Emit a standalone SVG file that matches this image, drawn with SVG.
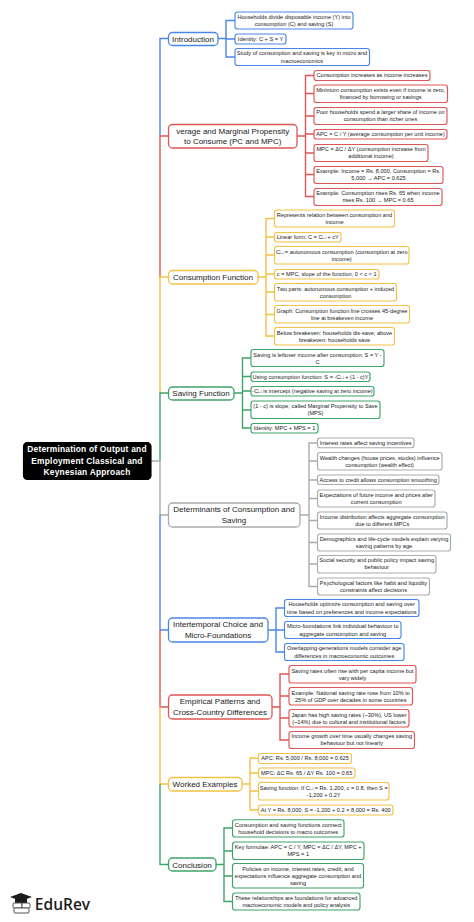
<svg xmlns="http://www.w3.org/2000/svg" width="474" height="922" viewBox="0 0 474 922">
<style>
text{font-family:"Liberation Sans",Arial,sans-serif;text-anchor:middle;fill:#1a1a1a}
.l{font-size:5.6px}
.b{font-size:8px}
.r{font-size:8.4px;font-weight:bold;fill:#fff;letter-spacing:.22px}
rect{fill:#fff;stroke-width:1.15}
.br{stroke-width:1.3}
path{fill:none;stroke-width:1.4}
.blue rect{stroke:#4a86e8}
.red rect{stroke:#e05555}
.yel rect{stroke:#f4c244}
.grn rect{stroke:#3fa46a}
.gry rect{stroke:#ababab}
</style>
<rect width="474" height="922" style="fill:#fff;stroke:none"/>
<g id="connectors">
<path style="stroke:#4a86e8" d="M168 38.5H160V136M218 38.5H226M235 20.5H226V57H235M226 39H235"/>
<path style="stroke:#e05555" d="M168 136H160V277M297 136H305.5M314 75.5H305.5V196.5H314M305.5 93.500H314M305.5 116H314M305.5 134H314M305.5 153H314M305.5 174.5H314"/>
<path style="stroke:#f4c244" d="M168 277H160V393M258 277H266M274.5 218.500H266V336H274.5M266 237H274.5M266 255H274.5M266 274H274.5M266 292H274.500M266 314.500H274.5"/>
<path style="stroke:#3fa46a" d="M168 393H160V461M234 393H242.5M251 358H242.500V428H251M242.5 376.500H251M242.500 391H251M242.5 410H251"/>
<path style="stroke:#ababab" d="M151 461H160V515H168M300 515H309M317.5 443H309V586.500H317.5M309 461H317.5M309 480H317.5M309 498.500H317.5M309 520.500H317.5M309 542.500H317.5M309 564H317.5"/>
<path style="stroke:#4a86e8" d="M168 630H160V515M268 630H276M284.5 608H276V652H284.5M276 630H284.5"/>
<path style="stroke:#e05555" d="M168 707H160V630M272 707H280M289 674H280V740H289M280 696H289M280 718H289"/>
<path style="stroke:#f4c244" d="M168 784H160V707M242 784H250M258.5 758H250V810H258.5M250 773H258.5M250 791H258.5"/>
<path style="stroke:#3fa46a" d="M168 864.500H160V784M216 864.500H224M232.5 828H224V901.500H232.5M224 851H232.5M224 876H232.5"/>
</g>
<g id="root"><rect x="23.500" y="442.500" width="127.500" height="37" rx="4" style="fill:#000;stroke:#000"/><text class="r" x="87" y="452">Determination of Output and</text><text class="r" x="87" y="463.500">Employment Classical and</text><text class="r" x="87" y="475">Keynesian Approach</text></g>

<g id="introduction" class="blue"><rect class="br" x="168.500" y="32.500" width="49.500" height="13" rx="4"/><text class="b" x="193" y="41.500">Introduction</text></g>
<g id="intro-1" class="blue"><rect x="235" y="12" width="118" height="17" rx="2.500"/><text class="l" x="294" y="18.500">Households divide disposable income (Y) into</text><text class="l" x="294" y="25.800">consumption (C) and saving (S)</text></g>
<g id="intro-2" class="blue"><rect x="235" y="34" width="51" height="10" rx="2.500"/><text class="l" x="260.500" y="40.800">Identity: C + S = Y</text></g>
<g id="intro-3" class="blue"><rect x="235" y="48.500" width="134.500" height="17" rx="2.500"/><text class="l" x="302" y="55.300">Study of consumption and saving is key in micro and</text><text class="l" x="302" y="62.500">macroeconomics</text></g>

<g id="apc-mpc" class="red"><rect class="br" x="168.500" y="124.500" width="128.500" height="23.500" rx="4"/><text class="b" x="232.700" y="133.500">verage and Marginal Propensity</text><text class="b" x="232.700" y="144">to Consume (PC and MPC)</text></g>
<g id="apc-1" class="red"><rect x="314" y="70.500" width="116" height="10" rx="2.500"/><text class="l" x="372" y="77.400">Consumption increases as income increases</text></g>
<g id="apc-2" class="red"><rect x="314" y="85" width="133.500" height="17.500" rx="2.500"/><text class="l" x="380.700" y="92">Minimum consumption exists even if income is zero,</text><text class="l" x="380.700" y="99.200">financed by borrowing or savings</text></g>
<g id="apc-3" class="red"><rect x="314" y="107.500" width="133" height="17" rx="2.500"/><text class="l" x="380.500" y="114">Poor households spend a larger share of income on</text><text class="l" x="380.500" y="121.300">consumption than richer ones</text></g>
<g id="apc-4" class="red"><rect x="314" y="129.500" width="133" height="9.500" rx="2.500"/><text class="l" x="380.500" y="136.200">APC = C / Y (average consumption per unit income)</text></g>
<g id="apc-5" class="red"><rect x="314" y="144.500" width="114" height="17" rx="2.500"/><text class="l" x="371" y="151">MPC = ΔC / ΔY (consumption increase from</text><text class="l" x="371" y="158.300">additional income)</text></g>
<g id="apc-6" class="red"><rect x="314" y="166.500" width="129" height="17" rx="2.500"/><text class="l" x="378.500" y="173">Example: Income = Rs. 8,000, Consumption = Rs.</text><text class="l" x="378.500" y="180.300">5,000 → APC = 0.625</text></g>
<g id="apc-7" class="red"><rect x="314" y="188.500" width="128" height="17" rx="2.500"/><text class="l" x="378" y="195">Example: Consumption rises Rs. 65 when income</text><text class="l" x="378" y="202.300">rises Rs. 100 → MPC = 0.65</text></g>

<g id="consumption-function" class="yel"><rect class="br" x="168.500" y="270.500" width="89.500" height="13.500" rx="4"/><text class="b" x="213" y="280">Consumption Function</text></g>
<g id="cf-1" class="yel"><rect x="274.500" y="210" width="120" height="17" rx="2.500"/><text class="l" x="334.500" y="216.800">Represents relation between consumption and</text><text class="l" x="334.500" y="224">income</text></g>
<g id="cf-2" class="yel"><rect x="274.500" y="232.500" width="66.500" height="9.500" rx="2.500"/><text class="l" x="307.700" y="239.200">Linear form: C = C□ + cY</text></g>
<g id="cf-3" class="yel"><rect x="274.500" y="246.500" width="134.500" height="17.500" rx="2.500"/><text class="l" x="341.700" y="253.500">C□ = autonomous consumption (consumption at zero</text><text class="l" x="341.700" y="260.800">income)</text></g>
<g id="cf-4" class="yel"><rect x="274.500" y="269.500" width="104.500" height="9.500" rx="2.500"/><text class="l" x="326.700" y="276">c = MPC, slope of the function, 0 &lt; c &lt; 1</text></g>
<g id="cf-5" class="yel"><rect x="274.500" y="283.500" width="122" height="17.500" rx="2.500"/><text class="l" x="335.500" y="290.500">Two parts: autonomous consumption + induced</text><text class="l" x="335.500" y="297.800">consumption</text></g>
<g id="cf-6" class="yel"><rect x="274.500" y="305.500" width="135" height="17.500" rx="2.500"/><text class="l" x="342" y="312.500">Graph: Consumption function line crosses 45-degree</text><text class="l" x="342" y="319.800">line at breakeven income</text></g>
<g id="cf-7" class="yel"><rect x="274.500" y="327.500" width="120" height="17.500" rx="2.500"/><text class="l" x="334.500" y="334.500">Below breakeven: households dis-save; above</text><text class="l" x="334.500" y="341.800">breakeven: households save</text></g>

<g id="saving-function" class="grn"><rect class="br" x="168.500" y="387" width="65.500" height="13" rx="4"/><text class="b" x="201" y="396">Saving Function</text></g>
<g id="sf-1" class="grn"><rect x="251" y="349.500" width="133" height="17" rx="2.500"/><text class="l" x="317.500" y="356.500">Saving is leftover income after consumption: S = Y -</text><text class="l" x="317.500" y="363.800">C</text></g>
<g id="sf-2" class="grn"><rect x="251" y="372" width="119" height="9.500" rx="2.500"/><text class="l" x="310.500" y="378.500">Using consumption function: S = -C□ + (1 - c)Y</text></g>
<g id="sf-3" class="grn"><rect x="251" y="386.500" width="123" height="9.500" rx="2.500"/><text class="l" x="312.500" y="393.300">-C□ is intercept (negative saving at zero income)</text></g>
<g id="sf-4" class="grn"><rect x="251" y="401" width="129" height="17.500" rx="2.500"/><text class="l" x="315.500" y="408">(1 - c) is slope, called Marginal Propensity to Save</text><text class="l" x="315.500" y="415.300">(MPS)</text></g>
<g id="sf-5" class="grn"><rect x="251" y="423.500" width="67" height="9.500" rx="2.500"/><text class="l" x="284.500" y="430.300">Identity: MPC + MPS = 1</text></g>

<g id="determinants" class="gry"><rect class="br" x="168.500" y="503" width="131.500" height="24" rx="4"/><text class="b" x="234" y="512">Determinants of Consumption and</text><text class="b" x="234" y="522.500">Saving</text></g>
<g id="det-1" class="gry"><rect x="317.500" y="438" width="96.500" height="9.700" rx="2.500"/><text class="l" x="365.700" y="445">Interest rates affect saving incentives</text></g>
<g id="det-2" class="gry"><rect x="317.500" y="452.500" width="124.500" height="17.500" rx="2.500"/><text class="l" x="379.700" y="459.500">Wealth changes (house prices, stocks) influence</text><text class="l" x="379.700" y="466.800">consumption (wealth effect)</text></g>
<g id="det-3" class="gry"><rect x="317.500" y="475" width="121.500" height="9.500" rx="2.500"/><text class="l" x="378.200" y="481.800">Access to credit allows consumption smoothing</text></g>
<g id="det-4" class="gry"><rect x="317.500" y="490" width="117.500" height="17" rx="2.500"/><text class="l" x="376.200" y="496.500">Expectations of future income and prices alter</text><text class="l" x="376.200" y="503.800">current consumption</text></g>
<g id="det-5" class="gry"><rect x="317.500" y="512" width="129.500" height="17" rx="2.500"/><text class="l" x="382.200" y="518.500">Income distribution affects aggregate consumption</text><text class="l" x="382.200" y="525.800">due to different MPCs</text></g>
<g id="det-6" class="gry"><rect x="317.500" y="534" width="133" height="17" rx="2.500"/><text class="l" x="384" y="540.500">Demographics and life-cycle models explain varying</text><text class="l" x="384" y="547.800">saving patterns by age</text></g>
<g id="det-7" class="gry"><rect x="317.500" y="555.500" width="118.500" height="17.500" rx="2.500"/><text class="l" x="376.700" y="562">Social security and public policy impact saving</text><text class="l" x="376.700" y="569.300">behaviour</text></g>
<g id="det-8" class="gry"><rect x="317.500" y="578" width="112" height="17" rx="2.500"/><text class="l" x="373.500" y="584.500">Psychological factors like habit and liquidity</text><text class="l" x="373.500" y="591.800">constraints affect decisions</text></g>

<g id="intertemporal" class="blue"><rect class="br" x="168.500" y="618" width="99.500" height="24" rx="4"/><text class="b" x="218" y="627">Intertemporal Choice and</text><text class="b" x="218" y="638">Micro-Foundations</text></g>
<g id="it-1" class="blue"><rect x="284.500" y="599.500" width="134.500" height="17" rx="2.500"/><text class="l" x="351.700" y="606.300">Households optimize consumption and saving over</text><text class="l" x="351.700" y="613.500">time based on preferences and income expectations</text></g>
<g id="it-2" class="blue"><rect x="284.500" y="621.500" width="116.500" height="17" rx="2.500"/><text class="l" x="342.700" y="628.300">Micro-foundations link individual behaviour to</text><text class="l" x="342.700" y="635.500">aggregate consumption and saving</text></g>
<g id="it-3" class="blue"><rect x="284.500" y="643.500" width="119.500" height="17" rx="2.500"/><text class="l" x="344.200" y="650.300">Overlapping-generations models consider age</text><text class="l" x="344.200" y="657.500">differences in macroeconomic outcomes</text></g>

<g id="empirical" class="red"><rect class="br" x="168.500" y="695" width="103.500" height="24" rx="4"/><text class="b" x="220" y="704">Empirical Patterns and</text><text class="b" x="220" y="714.500">Cross-Country Differences</text></g>
<g id="em-1" class="red"><rect x="289" y="665.500" width="127" height="17.500" rx="2.500"/><text class="l" x="352.500" y="672.500">Saving rates often rise with per capita income but</text><text class="l" x="352.500" y="679.800">vary widely</text></g>
<g id="em-2" class="red"><rect x="289" y="687.500" width="123.500" height="17.500" rx="2.500"/><text class="l" x="350.700" y="694.500">Example: National saving rate rose from 10% to</text><text class="l" x="350.700" y="701.800">25% of GDP over decades in some countries</text></g>
<g id="em-3" class="red"><rect x="289" y="709.500" width="120" height="17.500" rx="2.500"/><text class="l" x="349" y="716.500">Japan has high saving rates (~30%), US lower</text><text class="l" x="349" y="723.800">(~14%) due to cultural and institutional factors</text></g>
<g id="em-4" class="red"><rect x="289" y="731.500" width="125.500" height="17" rx="2.500"/><text class="l" x="351.700" y="738">Income growth over time usually changes saving</text><text class="l" x="351.700" y="745.300">behaviour but not linearly</text></g>

<g id="worked-examples" class="yel"><rect class="br" x="168.500" y="777.500" width="73.500" height="13.500" rx="4"/><text class="b" x="205" y="787">Worked Examples</text></g>
<g id="we-1" class="yel"><rect x="258.500" y="753.500" width="93" height="10" rx="2.500"/><text class="l" x="305" y="760.400">APC: Rs. 5,000 / Rs. 8,000 = 0.625</text></g>
<g id="we-2" class="yel"><rect x="258.500" y="768" width="96.500" height="10" rx="2.500"/><text class="l" x="306.700" y="775">MPC: ΔC Rs. 65 / ΔY Rs. 100 = 0.65</text></g>
<g id="we-3" class="yel"><rect x="258.500" y="782.500" width="130.500" height="17.500" rx="2.500"/><text class="l" x="323.700" y="789.500">Saving function: If C□ = Rs. 1,200, c = 0.8, then S =</text><text class="l" x="323.700" y="796.800">-1,200 + 0.2Y</text></g>
<g id="we-4" class="yel"><rect x="258.500" y="805" width="134.500" height="10" rx="2.500"/><text class="l" x="325.700" y="811.900">At Y = Rs. 8,000, S = -1,200 + 0.2 × 8,000 = Rs. 400</text></g>

<g id="conclusion" class="grn"><rect class="br" x="168.500" y="858" width="47.500" height="13" rx="4"/><text class="b" x="192" y="867.500">Conclusion</text></g>
<g id="co-1" class="grn"><rect x="232.500" y="819.700" width="111.500" height="17.300" rx="2.500"/><text class="l" x="288.200" y="826.500">Consumption and saving functions connect</text><text class="l" x="288.200" y="833.800">household decisions to macro outcomes</text></g>
<g id="co-2" class="grn"><rect x="232.500" y="842" width="131.500" height="17.500" rx="2.500"/><text class="l" x="298.200" y="849">Key formulae: APC = C / Y, MPC = ΔC / ΔY, MPC +</text><text class="l" x="298.200" y="856.300">MPS = 1</text></g>
<g id="co-3" class="grn"><rect x="232.500" y="863.500" width="131" height="24.500" rx="2.500"/><text class="l" x="298" y="870.500">Policies on income, interest rates, credit, and</text><text class="l" x="298" y="877.800">expectations influence aggregate consumption and</text><text class="l" x="298" y="885">saving</text></g>
<g id="co-4" class="grn"><rect x="232.500" y="893" width="127.500" height="17" rx="2.500"/><text class="l" x="296.200" y="899.800">These relationships are foundations for advanced</text><text class="l" x="296.200" y="907">macroeconomic models and policy analysis</text></g>

<g id="logo">
<polygon points="10,897 21,893 32,897 21,901" style="fill:#1c1c1c"/>
<polygon points="15,899 27,899 27,903 15,903" style="fill:#1c1c1c"/>
<rect x="13" y="903" width="9" height="5" rx="1" style="fill:#fff;stroke:#555;stroke-width:1"/>
<rect x="22" y="903" width="8" height="5" rx="1" style="fill:#fff;stroke:#555;stroke-width:1"/>
<rect x="14" y="908" width="15" height="5" rx="1" style="fill:#fff;stroke:#555;stroke-width:1"/>
<text x="62.500" y="910" style="font-family:'Open Sans','Liberation Sans',sans-serif;font-size:15.500px;font-weight:600;fill:#1c1c1c">EduRev</text>
</g>
</svg>
